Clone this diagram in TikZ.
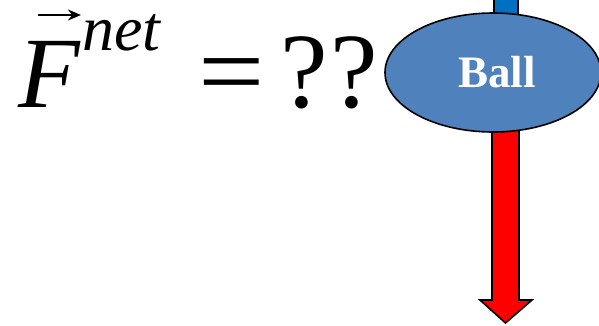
\documentclass[tikz,border=0pt]{standalone}
\usepackage{fontspec}
\setmainfont{Liberation Serif}
\usetikzlibrary{shapes.geometric,arrows.meta}
\definecolor{ballblue}{HTML}{4F81BD}
\definecolor{barblue}{HTML}{0070C0}
\tikzset{
  bar/.style={draw=black, line width=1.6pt},
  bigtxt/.style={inner sep=0pt, anchor=base west, font=\fontsize{107}{107}\selectfont},
}
\begin{document}
\begin{tikzpicture}[x=1pt,y=-1pt]
\useasboundingbox (0,0) rectangle (599,325);
% blue bar above
\draw[bar, fill=barblue] (494,-5) rectangle (518,40);
% red arrow
\draw[bar, fill=red, line join=miter] (492,72) -- (492,300) -- (480,300) -- (505.5,323) -- (532,300) -- (519,300) -- (519,72) -- cycle;
% ball
\node[ellipse, draw=black, line width=1.6pt, fill=ballblue, minimum width=216pt, minimum height=119pt, inner sep=0pt] (ball) at (493,72.5) {};
\node[anchor=base, inner sep=0pt, text=white, font=\fontsize{45}{45}\selectfont\bfseries] (balltxt) at (497,87) {Ball};
% formula
\node[inner sep=0pt, anchor=base west, font=\fontsize{101}{101}\selectfont\itshape] (F) at (18,107) {F};
\node[inner sep=0pt, anchor=base west, font=\fontsize{64}{64}\selectfont\itshape] (net) at (82,50) {net};
\node[bigtxt, xscale=1.1] (eq) at (198,107) {=};
\node[bigtxt] (qq) at (280,107) {?\kern3pt?};
\coordinate (va) at (38,15);
\coordinate (vb) at (81,15);
\draw[line width=2.2pt, -{Stealth[length=13pt,width=11pt]}] (va) -- (vb);
\end{tikzpicture}
\end{document}
